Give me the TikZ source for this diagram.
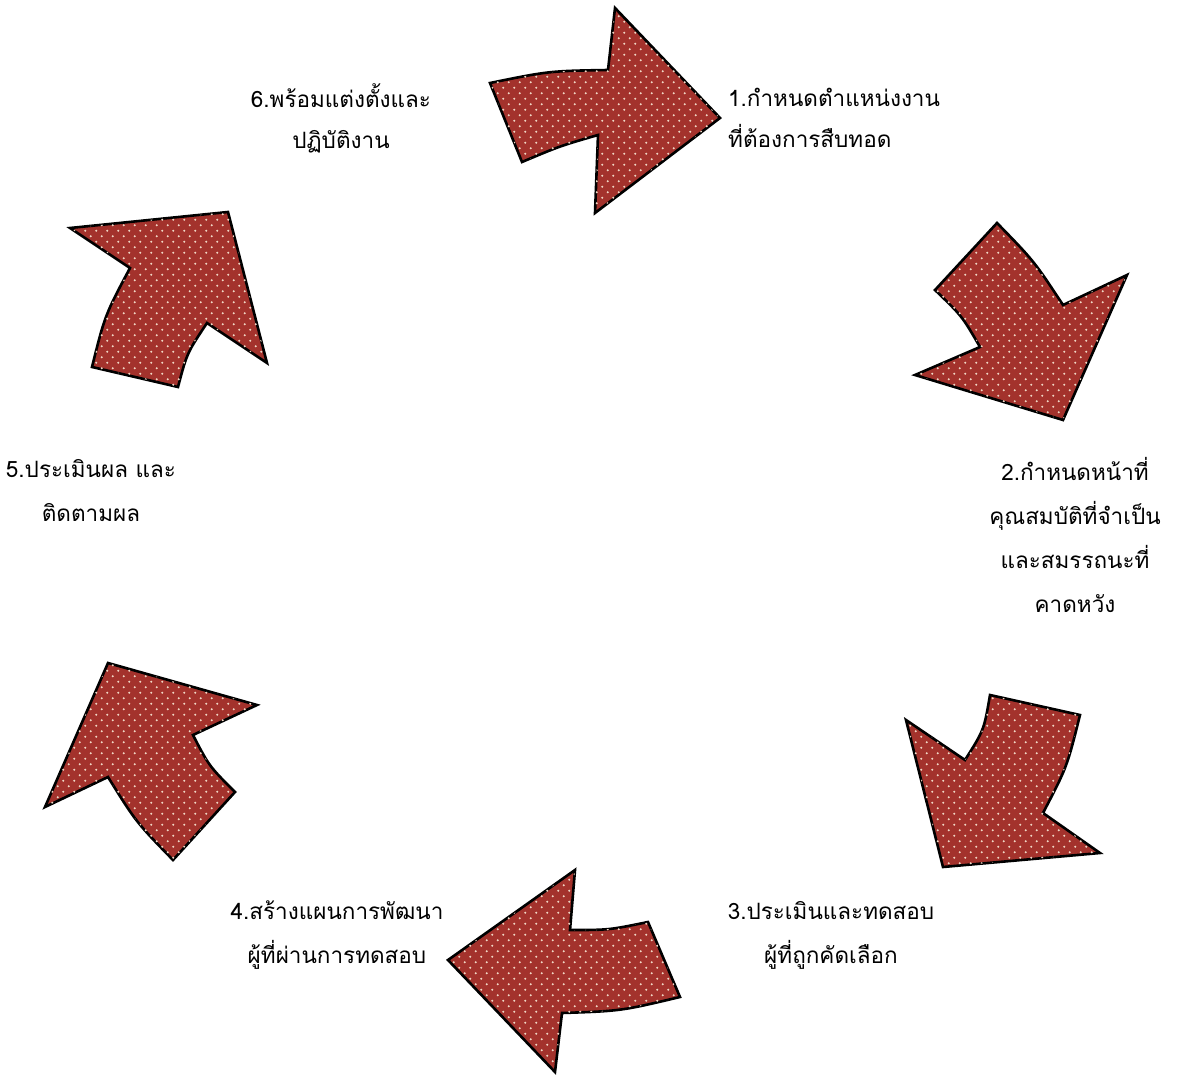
\documentclass[tikz,border=0pt]{standalone}
\usepackage{fontspec}
\newfontfamily\thaifont[Script=Thai]{Loma}
\usetikzlibrary{patterns}
\definecolor{arrowred}{RGB}{163,50,44}
\definecolor{dotcol}{RGB}{240,214,196}
\pgfdeclarepatternformonly{whitedots}{\pgfqpoint{-1pt}{-1pt}}{\pgfqpoint{12pt}{12pt}}{\pgfqpoint{11pt}{11pt}}{%
  \pgfpathcircle{\pgfqpoint{2.75pt}{2.75pt}}{1.1pt}%
  \pgfpathcircle{\pgfqpoint{8.25pt}{8.25pt}}{1.1pt}%
  \pgfusepath{fill}}
\tikzset{
  bigarrow/.style={draw=black, line width=2.6pt, fill=arrowred,
    postaction={pattern=whitedots, pattern color=dotcol}},
  lbl/.style={font=\thaifont\fontsize{22.5}{44}\selectfont, align=center, inner sep=0pt},
}
\begin{document}
\begin{tikzpicture}[x=1pt,y=-1pt]
\useasboundingbox (0,0) rectangle (1177,1075);
% arrow 1 (top)
\path[bigarrow] (490,83) .. controls (549,71) .. (608,70) -- (615,8) -- (720,118)
  -- (595,213) -- (598,135) .. controls (560,146) .. (522,162) -- cycle;
% arrow 2 (upper right)
\path[bigarrow] (935,290) -- (997,223) .. controls (1034,261) .. (1063,305)
  -- (1127,275) -- (1063,420) -- (915,375) -- (980,347) .. controls (962,316) .. (935,290) -- cycle;
% arrow 3 (lower right)
\path[bigarrow] (1080,715) -- (990,695) .. controls (984,730) .. (965,760)
  -- (906,720) -- (943,867) -- (1100,853) -- (1043,813) .. controls (1067,767) .. (1080,715) -- cycle;
% arrow 4 (bottom)
\path[bigarrow] (648,922) -- (680,997) .. controls (621,1011) .. (562,1013)
  -- (555,1072) -- (448,960) -- (575,870) -- (570,930) .. controls (609,930) .. (648,922) -- cycle;
% arrow 5 (lower left)
\path[bigarrow] (235,792) -- (173,860) .. controls (136,822) .. (108,777)
  -- (45,807) -- (108,663) -- (257,705) -- (193,735) .. controls (209,766) .. (235,792) -- cycle;
% arrow 6 (upper left)
\path[bigarrow] (178,387) -- (92,367) .. controls (105,315) .. (130,268)
  -- (70,228) -- (228,212) -- (267,363) -- (207,323) .. controls (187,353) .. (178,387) -- cycle;
% labels
\node[lbl, align=left, anchor=west] (l1) at (728,118) {1.กำหนดตำแหน่งงาน\\[-3pt]ที่ต้องการสืบทอด};
\node[lbl] (l2) at (1075,535) {2.กำหนดหน้าที่\\คุณสมบัติที่จำเป็น\\และสมรรถนะที่\\คาดหวัง};
\node[lbl] (l3) at (831,935) {3.ประเมินและทดสอบ\\ผู้ที่ถูกคัดเลือก};
\node[lbl] (l4) at (337,935) {4.สร้างแผนการพัฒนา\\ผู้ที่ผ่านการทดสอบ};
\node[lbl] (l5) at (91,491) {5.ประเมินผล และ\\ติดตามผล};
\node[lbl] (l6) at (341,118) {6.พร้อมแต่งตั้งและ\\[-3pt]ปฏิบัติงาน};
\end{tikzpicture}
\end{document}
